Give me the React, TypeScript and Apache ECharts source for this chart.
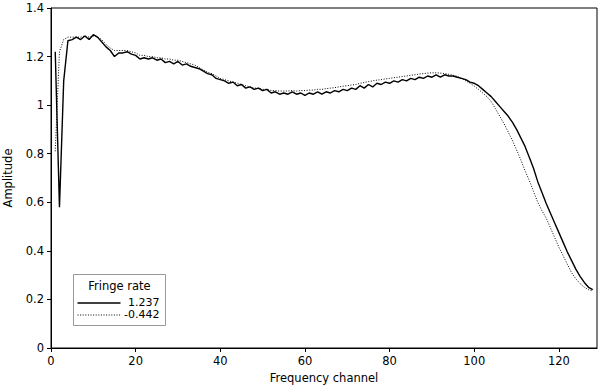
import React, { useEffect, useRef } from "react";
import * as echarts from "echarts";

const xTickValues = [0, 20, 40, 60, 80, 100, 120];
const xLabel = "Frequency channel";
const yLabel = "Amplitude";
const legendTitle = "Fringe rate";
const seriesNames = ["1.237", "-0.442"];

// channels 1..128
const solidValues = [
  1.22, 0.58, 1.10, 1.265, 1.27, 1.28, 1.27, 1.285, 1.27, 1.29,
  1.28, 1.26, 1.24, 1.225, 1.20, 1.215, 1.215, 1.22, 1.21, 1.205,
  1.19, 1.195, 1.19, 1.195, 1.185, 1.19, 1.175, 1.18, 1.17, 1.18,
  1.165, 1.17, 1.16, 1.155, 1.15, 1.14, 1.13, 1.125, 1.11, 1.105,
  1.10, 1.09, 1.095, 1.08, 1.085, 1.07, 1.075, 1.065, 1.07, 1.06,
  1.065, 1.05, 1.055, 1.045, 1.05, 1.045, 1.055, 1.045, 1.05, 1.04,
  1.05, 1.045, 1.055, 1.045, 1.055, 1.05, 1.06, 1.055, 1.065, 1.06,
  1.07, 1.065, 1.08, 1.07, 1.085, 1.075, 1.09, 1.085, 1.095, 1.09,
  1.10, 1.095, 1.105, 1.10, 1.11, 1.105, 1.115, 1.11, 1.12, 1.115,
  1.125, 1.115, 1.125, 1.12, 1.12, 1.115, 1.11, 1.105, 1.095, 1.09,
  1.08, 1.065, 1.05, 1.035, 1.015, 0.995, 0.975, 0.955, 0.93, 0.90,
  0.865, 0.83, 0.785, 0.74, 0.685, 0.64, 0.595, 0.555, 0.515, 0.475,
  0.435, 0.395, 0.36, 0.325, 0.295, 0.27, 0.25, 0.24,
];

const dottedValues = [
  0.81, 1.22, 1.27, 1.28, 1.28, 1.28, 1.28, 1.285, 1.28, 1.285,
  1.28, 1.27, 1.25, 1.235, 1.225, 1.225, 1.225, 1.225, 1.22, 1.215,
  1.205, 1.205, 1.20, 1.20, 1.195, 1.195, 1.19, 1.19, 1.185, 1.185,
  1.18, 1.175, 1.17, 1.165, 1.155, 1.145, 1.135, 1.13, 1.12, 1.11,
  1.105, 1.10, 1.095, 1.09, 1.085, 1.08, 1.075, 1.07, 1.07, 1.065,
  1.065, 1.06, 1.06, 1.058, 1.058, 1.058, 1.06, 1.058, 1.06, 1.06,
  1.062, 1.062, 1.065, 1.065, 1.068, 1.07, 1.072, 1.075, 1.078, 1.08,
  1.083, 1.085, 1.09, 1.093, 1.097, 1.10, 1.103, 1.105, 1.108, 1.11,
  1.113, 1.115, 1.118, 1.12, 1.123, 1.125, 1.128, 1.13, 1.132, 1.133,
  1.133, 1.132, 1.13, 1.127, 1.123, 1.118, 1.11, 1.10, 1.09, 1.078,
  1.065, 1.05, 1.035, 1.015, 0.985, 0.955, 0.925, 0.89, 0.855, 0.815,
  0.775, 0.73, 0.69, 0.645, 0.60, 0.565, 0.535, 0.495, 0.455, 0.415,
  0.38, 0.345, 0.31, 0.285, 0.265, 0.25, 0.24, 0.235,
];

const FONT = "DejaVu Sans";

export default function App() {
  const ref = useRef<HTMLDivElement>(null);
  useEffect(() => {
    if (!ref.current) return;
    const chart = echarts.init(ref.current, null, { renderer: "svg" });
    const toPairs = (vals: number[]) => vals.map((v, i) => [i + 1, v]);
    const axisCommon = {
      axisLine: { show: true, lineStyle: { color: "#000", width: 1 } },
      axisTick: { show: true, inside: false, length: 4, lineStyle: { color: "#000" } },
      splitLine: { show: false },
      nameTextStyle: { color: "#000", fontFamily: FONT, fontSize: 11.5 },
    };
    const lx = 73, ly = 274;
    chart.setOption({
      animation: false,
      backgroundColor: "#fff",
      grid: {
        left: 51, right: 3, top: 8, bottom: 38,
        outerBoundsMode: "none", containLabel: false,
        show: true, borderColor: "#000", borderWidth: 1, backgroundColor: "transparent",
      },
      xAxis: {
        type: "value", min: 0, max: 129,
        name: xLabel, nameLocation: "middle", nameGap: 22,
        ...axisCommon,
        axisTick: { ...axisCommon.axisTick, customValues: xTickValues },
        axisLabel: { customValues: xTickValues, color: "#000", fontFamily: FONT, fontSize: 11.5, margin: 7 },
      },
      yAxis: {
        type: "value", min: 0, max: 1.4, interval: 0.2,
        name: yLabel, nameLocation: "middle", nameGap: 37,
        ...axisCommon,
        axisLabel: { color: "#000", fontFamily: FONT, fontSize: 11.5, margin: 7 },
      },
      series: [
        {
          name: seriesNames[0], type: "line", data: toPairs(solidValues),
          showSymbol: false, symbol: "none",
          lineStyle: { color: "#000", width: 1.4 },
        },
        {
          name: seriesNames[1], type: "line", data: toPairs(dottedValues),
          showSymbol: false, symbol: "none",
          lineStyle: { color: "#000", width: 1, type: [1, 1.6] },
        },
      ],
      graphic: [
        {
          type: "group", left: lx, top: ly,
          children: [
            { type: "rect", shape: { x: 0, y: 0, width: 92, height: 51 }, style: { fill: "#fff", stroke: "#999", lineWidth: 1 } },
            { type: "text", x: 46, y: 11, style: { text: legendTitle, font: `11.5px "${FONT}"`, fill: "#000", align: "center", verticalAlign: "middle" } },
            { type: "line", shape: { x1: 4, y1: 28.5, x2: 47, y2: 28.5 }, style: { stroke: "#000", lineWidth: 1.4 } },
            { type: "text", x: 86, y: 28, style: { text: seriesNames[0], font: `11px "${FONT}"`, fill: "#000", align: "right", verticalAlign: "middle" } },
            { type: "line", shape: { x1: 4, y1: 40.5, x2: 47, y2: 40.5 }, style: { stroke: "#000", lineWidth: 1, lineDash: [1, 1.6] } },
            { type: "text", x: 86, y: 40, style: { text: seriesNames[1], font: `11px "${FONT}"`, fill: "#000", align: "right", verticalAlign: "middle" } },
          ],
        },
      ],
    });
    return () => chart.dispose();
  }, []);
  return <div ref={ref} style={{ width: 600, height: 386, position: "absolute", left: 0, top: 0 }} />;
}
